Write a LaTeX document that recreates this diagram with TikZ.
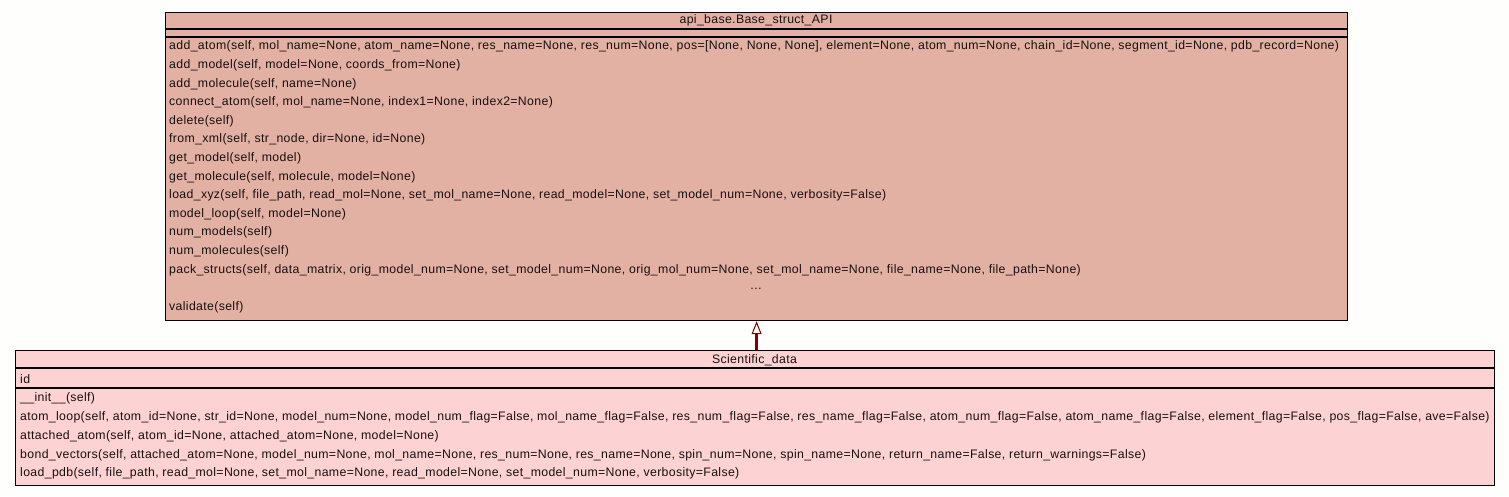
\documentclass[tikz,border=0pt]{standalone}
\usepackage{fontspec}
\setmainfont[LetterSpace=2.8]{Liberation Sans}
\usetikzlibrary{arrows.meta}

\definecolor{pagecol}{RGB}{254,254,252}
\definecolor{basecol}{RGB}{227,176,164}
\definecolor{subcol}{RGB}{252,210,211}
\definecolor{inhcol}{RGB}{128,0,0}
\definecolor{txtcol}{RGB}{24,16,16}

\tikzset{
	classbox/.style={rectangle, draw, line width=1.2pt, anchor=north west, inner sep=0pt},
	member/.style={anchor=west, inner sep=0pt, yshift=-0.8pt, text=txtcol},
	title/.style={inner sep=0pt, yshift=-0.8pt, text=txtcol},
	inherit/.style={draw=inhcol, line width=2.4pt, -{Triangle[fill=white, line width=1pt, length=13pt, width=10pt]}}
}

\begin{document}
\begin{tikzpicture}[x=1pt, y=-1pt, font=\fontsize{12.3}{14}\selectfont]
	\fill[pagecol] (0,0) rectangle (1509,496);
	\useasboundingbox (0,0) rectangle (1509,496);

	% base class
	\node [classbox, fill=basecol, minimum width=1182pt, minimum height=308pt] (base) at (165,12) {};
	\draw[line width=1.2pt] (165,29) -- (1347,29) (165,37) -- (1347,37);
	\draw
	(756, 20) node [title] (basename) {api\_base.Base\_struct\_API}
	(169, 46) node [member] (b1) {add\_atom(self, mol\_name=None, atom\_name=None, res\_name=None, res\_num=None, pos=[None, None, None], element=None, atom\_num=None, chain\_id=None, segment\_id=None, pdb\_record=None)}
	(169, 64.6) node [member] (b2) {add\_model(self, model=None, coords\_from=None)}
	(169, 83.2) node [member] (b3) {add\_molecule(self, name=None)}
	(169, 101.8) node [member] (b4) {connect\_atom(self, mol\_name=None, index1=None, index2=None)}
	(169, 120.4) node [member] (b5) {delete(self)}
	(169, 139) node [member] (b6) {from\_xml(self, str\_node, dir=None, id=None)}
	(169, 157.6) node [member] (b7) {get\_model(self, model)}
	(169, 176.2) node [member] (b8) {get\_molecule(self, molecule, model=None)}
	(169, 194.8) node [member] (b9) {load\_xyz(self, file\_path, read\_mol=None, set\_mol\_name=None, read\_model=None, set\_model\_num=None, verbosity=False)}
	(169, 213.4) node [member] (b10) {model\_loop(self, model=None)}
	(169, 232) node [member] (b11) {num\_models(self)}
	(169, 250.6) node [member] (b12) {num\_molecules(self)}
	(169, 269.2) node [member] (b13) {pack\_structs(self, data\_matrix, orig\_model\_num=None, set\_model\_num=None, orig\_mol\_num=None, set\_mol\_name=None, file\_name=None, file\_path=None)}
	(756, 287.8) node [title] (b14) {\ldots}
	(169, 306.4) node [member] (b15) {validate(self)};

	% derived class
	\node [classbox, fill=subcol, minimum width=1479pt, minimum height=135pt] (sub) at (15,350) {};
	\draw[line width=1.2pt] (15,368) -- (1494,368) (15,388) -- (1494,388);
	\draw
	(754.5, 359) node [title] (subname) {Scientific\_data}
	(20, 378) node [member] (s0) {id}
	(20, 398) node [member] (s1) {\_\_init\_\_(self)}
	(20, 417) node [member] (s2) {atom\_loop(self, atom\_id=None, str\_id=None, model\_num=None, model\_num\_flag=False, mol\_name\_flag=False, res\_num\_flag=False, res\_name\_flag=False, atom\_num\_flag=False, atom\_name\_flag=False, element\_flag=False, pos\_flag=False, ave=False)}
	(20, 436) node [member] (s3) {attached\_atom(self, atom\_id=None, attached\_atom=None, model=None)}
	(20, 455) node [member] (s4) {bond\_vectors(self, attached\_atom=None, model\_num=None, mol\_name=None, res\_num=None, res\_name=None, spin\_num=None, spin\_name=None, return\_name=False, return\_warnings=False)}
	(20, 473) node [member] (s5) {load\_pdb(self, file\_path, read\_mol=None, set\_mol\_name=None, read\_model=None, set\_model\_num=None, verbosity=False)};

	\draw[inherit] (sub.north -| base.south) -- (base.south);
\end{tikzpicture}
\end{document}
